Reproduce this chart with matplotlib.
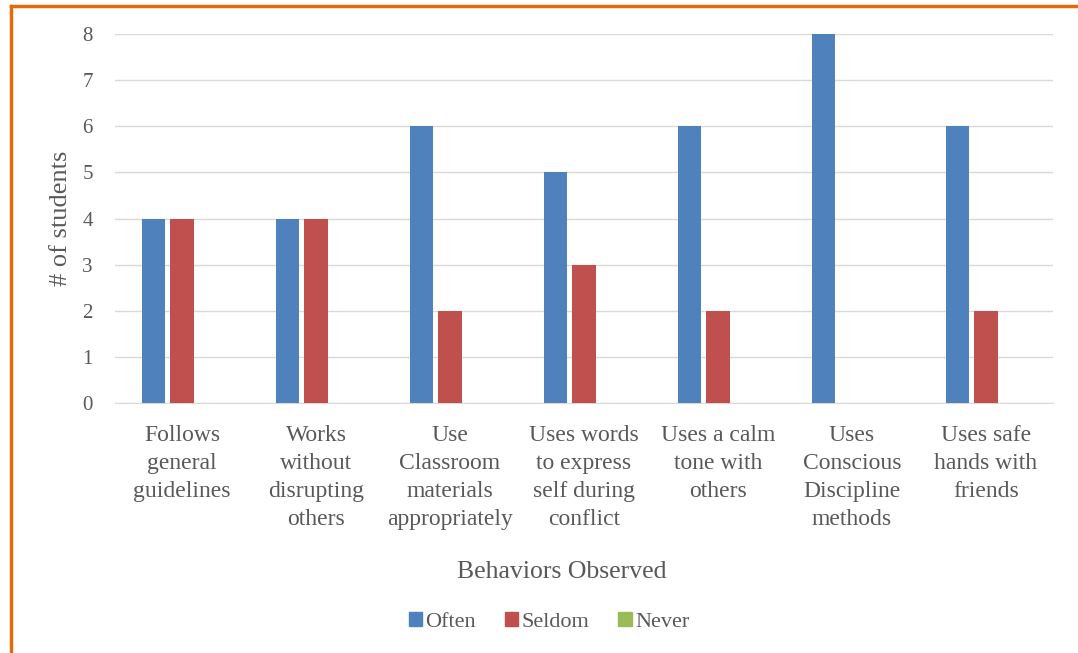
import matplotlib
matplotlib.use("Agg")
import matplotlib.pyplot as plt
from matplotlib.patches import Rectangle
from matplotlib.lines import Line2D
import numpy as np

categories = ["Follows\ngeneral\nguidelines", "Works\nwithout\ndisrupting\nothers",
              "Use\nClassroom\nmaterials\nappropriately", "Uses words\nto express\nself during\nconflict",
              "Uses a calm\ntone with\nothers", "Uses\nConscious\nDiscipline\nmethods",
              "Uses safe\nhands with\nfriends"]
often = [4, 4, 6, 5, 6, 8, 6]
seldom = [4, 4, 2, 3, 2, 0, 2]
never = [0, 0, 0, 0, 0, 0, 0]
series_names = ["Often", "Seldom", "Never"]
colors = ["#4F81BD", "#C0504D", "#9BBB59"]

plt.rcParams['font.family'] = ['Liberation Serif', 'DejaVu Serif']
txt = "#595959"

fig = plt.figure(figsize=(10.78, 6.53), dpi=100)
ax = fig.add_axes([115/1078, 1-403/653, (1053-115)/1078, (403-34)/653])

x = np.arange(len(categories))
w = 0.172
step = 0.216
for i, (vals, c) in enumerate(zip([often, seldom, never], colors)):
    ax.bar(x + (i-1)*step, vals, width=w, color=c, label=series_names[i], zorder=3)

ax.set_xlim(-0.5, len(categories)-0.5)
ax.set_ylim(0, 8)
ax.set_yticks(range(0, 9))
ax.yaxis.grid(True, color="#D9D9D9", linewidth=1, zorder=0)
for s in ["left", "right", "top"]:
    ax.spines[s].set_visible(False)
ax.spines["bottom"].set_color("#D9D9D9")
ax.tick_params(axis="y", length=0, pad=16, labelsize=15, labelcolor=txt)
ax.tick_params(axis="x", length=0, pad=16, labelsize=17, labelcolor=txt)
ax.set_xticks(x)
ax.set_xticklabels(categories, linespacing=1.43, va="top")
ax.set_ylabel("# of students", fontsize=19, color=txt)
ax.yaxis.set_label_coords((72-115)/(1053-115), 0.5)
fig.text(562/1078, 1-572/653, "Behaviors Observed", fontsize=18.5, color=txt, ha="center", va="center")

handles = [Rectangle((0, 0), 1, 1, color=c) for c in colors]
fig.legend(handles, series_names, loc="center", bbox_to_anchor=(549/1078, 1-622/653), ncol=3,
           frameon=False, fontsize=16, labelcolor=txt, handlelength=0.6, handleheight=0.6,
           handletextpad=0.15, columnspacing=1.3)

# orange frame on top and left
fig.add_artist(Line2D([11/1078, 1], [1-6/653, 1-6/653], color="#E36C0A", linewidth=2.5, transform=fig.transFigure))
fig.add_artist(Line2D([11/1078, 11/1078], [0, 1-6/653], color="#E36C0A", linewidth=2.5, transform=fig.transFigure))

fig.savefig("out.png", dpi=100, facecolor="white")
